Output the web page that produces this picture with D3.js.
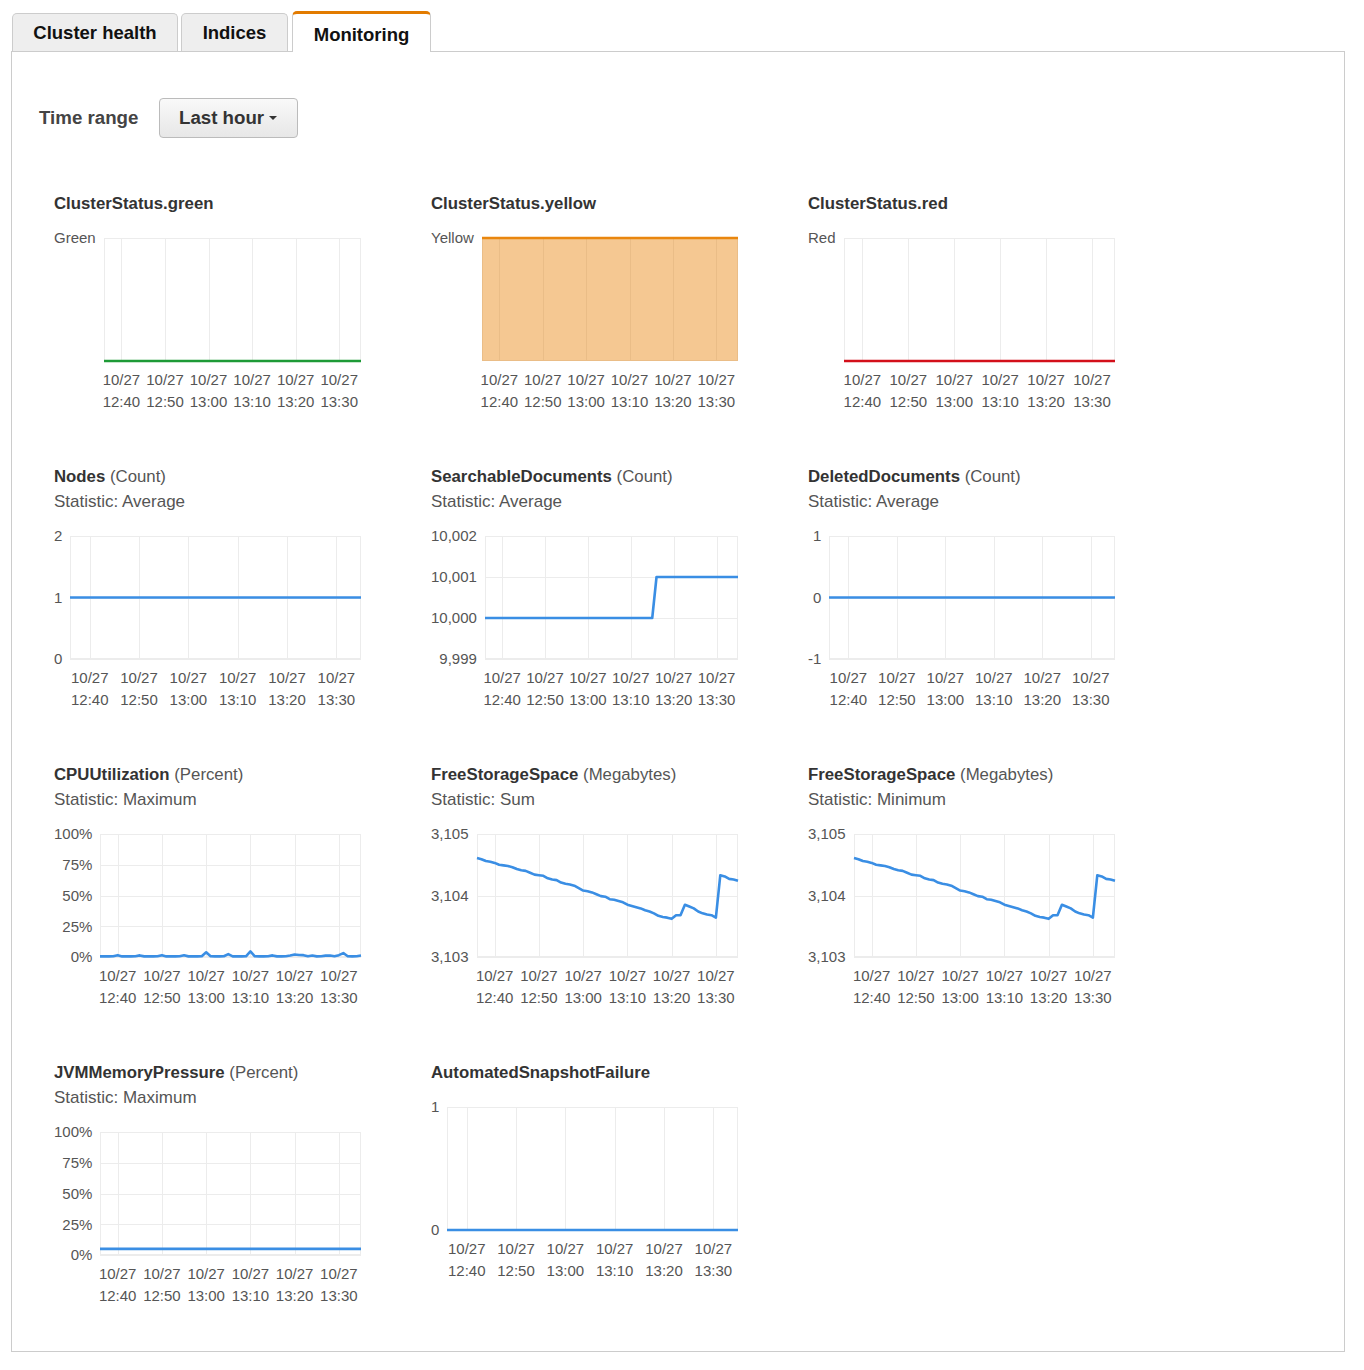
<!DOCTYPE html>
<html>
<head>
<meta charset="utf-8">
<script src="https://cdn.jsdelivr.net/npm/d3@7"></script>
<style>
  body {
    margin: 0;
    width: 1364px;
    height: 1370px;
    position: relative;
    background: #fff;
    font-family: "Liberation Sans", Arial, Helvetica, sans-serif;
    color: #333;
  }
  .tab {
    position: absolute;
    box-sizing: border-box;
    border: 1px solid #ccc;
    border-bottom: none;
    border-radius: 5px 5px 0 0;
    background: #eee;
    font-weight: bold;
    font-size: 18.5px;
    color: #111;
    text-align: center;
  }
  .tab.active {
    background: #fff;
    border-top: 3px solid #e27b00;
    z-index: 2;
  }
  .panel {
    position: absolute;
    left: 11px; top: 51px;
    width: 1334px; height: 1301px;
    box-sizing: border-box;
    border: 1px solid #ccc;
  }
  .range-label {
    position: absolute;
    left: 39px; top: 106px;
    font-weight: bold; font-size: 18.7px; line-height: 24px;
    color: #444;
  }
  .button {
    position: absolute;
    left: 159px; top: 98px;
    width: 139px; height: 40px;
    box-sizing: border-box;
    border: 1px solid #bbb;
    border-radius: 4px;
    background: linear-gradient(#f9f9f9, #e7e7e7);
    font-weight: bold; font-size: 18.7px; line-height: 38px;
    color: #333;
    padding-left: 19px;
  }
  .caret {
    display: inline-block;
    width: 0; height: 0;
    margin-left: 5px;
    vertical-align: 4px;
    border-left: 4px solid transparent;
    border-right: 4px solid transparent;
    border-top: 4px solid #333;
  }
  #charts {
    position: absolute;
    left: 54px; top: 191px;
    width: 1140px;
  }
  .cell {
    float: left;
    width: 377px;
    margin-bottom: 53px;
  }
  .title {
    font-size: 16.8px; line-height: 25px; font-weight: bold; color: #333;
    white-space: nowrap;
  }
  .title .unit { font-weight: normal; color: #555; }
  .stat { font-size: 17px; line-height: 25px; color: #555; }
  svg { display: block; }
  svg text { font-family: "Liberation Sans", Arial, Helvetica, sans-serif; font-size: 15px; fill: #555; }
</style>
</head>
<body>
<div class="tab" style="left:12px; top:13px; width:166px; height:38px; line-height:37px;">Cluster health</div>
<div class="tab" style="left:181px; top:13px; width:107px; height:38px; line-height:37px;">Indices</div>
<div class="tab active" style="left:292px; top:11px; width:139px; height:41px; line-height:41px;">Monitoring</div>
<div class="panel"></div>
<div class="range-label">Time range</div>
<div class="button">Last hour<span class="caret"></span></div>
<div id="charts"></div>

<script>
// time axis: one sample per minute, 12:36 .. 13:35 on 10/27
const startTime = new Date(2015, 9, 27, 12, 36);
const endTime = new Date(2015, 9, 27, 13, 36);
const times = d3.timeMinute.range(startTime, endTime);
const tickTimes = ["12:40", "12:50", "13:00", "13:10", "13:20", "13:30"];

const greenStatus = [0,0,0,0,0,0,0,0,0,0, 0,0,0,0,0,0,0,0,0,0, 0,0,0,0,0,0,0,0,0,0,
                     0,0,0,0,0,0,0,0,0,0, 0,0,0,0,0,0,0,0,0,0, 0,0,0,0,0,0,0,0,0,0];
const yellowStatus = [1,1,1,1,1,1,1,1,1,1, 1,1,1,1,1,1,1,1,1,1, 1,1,1,1,1,1,1,1,1,1,
                      1,1,1,1,1,1,1,1,1,1, 1,1,1,1,1,1,1,1,1,1, 1,1,1,1,1,1,1,1,1,1];
const redStatus = [0,0,0,0,0,0,0,0,0,0, 0,0,0,0,0,0,0,0,0,0, 0,0,0,0,0,0,0,0,0,0,
                   0,0,0,0,0,0,0,0,0,0, 0,0,0,0,0,0,0,0,0,0, 0,0,0,0,0,0,0,0,0,0];
const nodesCount = [1,1,1,1,1,1,1,1,1,1, 1,1,1,1,1,1,1,1,1,1, 1,1,1,1,1,1,1,1,1,1,
                    1,1,1,1,1,1,1,1,1,1, 1,1,1,1,1,1,1,1,1,1, 1,1,1,1,1,1,1,1,1,1];
const searchableDocs = [10000,10000,10000,10000,10000,10000,10000,10000,10000,10000,
                        10000,10000,10000,10000,10000,10000,10000,10000,10000,10000,
                        10000,10000,10000,10000,10000,10000,10000,10000,10000,10000,
                        10000,10000,10000,10000,10000,10000,10000,10000,10000,10000,
                        10001,10001,10001,10001,10001,10001,10001,10001,10001,10001,
                        10001,10001,10001,10001,10001,10001,10001,10001,10001,10001];
const deletedDocs = [0,0,0,0,0,0,0,0,0,0, 0,0,0,0,0,0,0,0,0,0, 0,0,0,0,0,0,0,0,0,0,
                     0,0,0,0,0,0,0,0,0,0, 0,0,0,0,0,0,0,0,0,0, 0,0,0,0,0,0,0,0,0,0];
const cpuMax = [0.5,0.5,0.5,0.6,1.5,0.5,0.5,0.5,0.6,1.3, 0.5,0.5,0.5,0.6,1.5,0.5,0.5,0.5,0.6,1.4,
                0.5,0.5,0.5,0.6,3.8,0.6,0.5,0.5,0.6,2.3, 0.5,0.5,0.5,0.6,4.6,0.6,0.5,0.5,0.6,1.3,
                0.5,0.5,0.6,1.2,2.0,1.6,1.5,0.6,1.2,0.5, 0.6,1.1,1.2,0.6,1.5,3.2,0.6,0.5,0.6,1.2];
const freeStorageSum = [3104.61,3104.59,3104.56,3104.55,3104.53,3104.50,3104.49,3104.48,3104.46,3104.43,
                        3104.41,3104.40,3104.37,3104.34,3104.33,3104.32,3104.28,3104.26,3104.25,3104.21,
                        3104.19,3104.18,3104.16,3104.12,3104.08,3104.07,3104.05,3104.02,3103.99,3103.98,
                        3103.94,3103.93,3103.91,3103.89,3103.85,3103.83,3103.81,3103.79,3103.76,3103.74,
                        3103.71,3103.67,3103.65,3103.64,3103.62,3103.68,3103.68,3103.85,3103.82,3103.79,
                        3103.74,3103.71,3103.69,3103.68,3103.64,3104.33,3104.31,3104.27,3104.26,3104.24];
const freeStorageMin = [3104.61,3104.59,3104.56,3104.55,3104.53,3104.50,3104.49,3104.48,3104.46,3104.43,
                        3104.41,3104.40,3104.37,3104.34,3104.33,3104.32,3104.28,3104.26,3104.25,3104.21,
                        3104.19,3104.18,3104.16,3104.12,3104.08,3104.07,3104.05,3104.02,3103.99,3103.98,
                        3103.94,3103.93,3103.91,3103.89,3103.85,3103.83,3103.81,3103.79,3103.76,3103.74,
                        3103.71,3103.67,3103.65,3103.64,3103.62,3103.68,3103.68,3103.85,3103.82,3103.79,
                        3103.74,3103.71,3103.69,3103.68,3103.64,3104.33,3104.31,3104.27,3104.26,3104.24];
const jvmPressure = [5,5,5,5,5,5,5,5,5,5, 5,5,5,5,5,5,5,5,5,5, 5,5,5,5,5,5,5,5,5,5,
                     5,5,5,5,5,5,5,5,5,5, 5,5,5,5,5,5,5,5,5,5, 5,5,5,5,5,5,5,5,5,5];
const snapshotFailure = [0,0,0,0,0,0,0,0,0,0, 0,0,0,0,0,0,0,0,0,0, 0,0,0,0,0,0,0,0,0,0,
                         0,0,0,0,0,0,0,0,0,0, 0,0,0,0,0,0,0,0,0,0, 0,0,0,0,0,0,0,0,0,0];

const blue = "#3a8ee4";
const pct = d => d + "%";
const comma = d => d3.format(",")(d).replace("\u2212", "-");

const charts = [
  {title: "ClusterStatus.green", values: greenStatus, color: "#1d9a36", domain: [0, 1], ticks: [1], format: () => "Green"},
  {title: "ClusterStatus.yellow", values: yellowStatus, color: "#e9860e", domain: [0, 1], ticks: [1], format: () => "Yellow", area: true},
  {title: "ClusterStatus.red", values: redStatus, color: "#d30f1a", domain: [0, 1], ticks: [1], format: () => "Red"},
  {title: "Nodes", unit: "Count", stat: "Average", values: nodesCount, domain: [0, 2], ticks: [0, 1, 2], format: comma},
  {title: "SearchableDocuments", unit: "Count", stat: "Average", values: searchableDocs, domain: [9999, 10002], ticks: [9999, 10000, 10001, 10002], format: comma},
  {title: "DeletedDocuments", unit: "Count", stat: "Average", values: deletedDocs, domain: [-1, 1], ticks: [-1, 0, 1], format: comma},
  {title: "CPUUtilization", unit: "Percent", stat: "Maximum", values: cpuMax, domain: [0, 100], ticks: [0, 25, 50, 75, 100], format: pct},
  {title: "FreeStorageSpace", unit: "Megabytes", stat: "Sum", values: freeStorageSum, domain: [3103, 3105], ticks: [3103, 3104, 3105], format: comma},
  {title: "FreeStorageSpace", unit: "Megabytes", stat: "Minimum", values: freeStorageMin, domain: [3103, 3105], ticks: [3103, 3104, 3105], format: comma},
  {title: "JVMMemoryPressure", unit: "Percent", stat: "Maximum", values: jvmPressure, domain: [0, 100], ticks: [0, 25, 50, 75, 100], format: pct},
  {title: "AutomatedSnapshotFailure", values: snapshotFailure, domain: [0, 1], ticks: [0, 1], format: comma}
];

const W = 310, H = 195;
const plotTop = 22, plotH = 123, plotRight = 307;
const parseTick = d3.timeParse("%H:%M");
const tickDates = tickTimes.map(t => {
  const p = parseTick(t);
  return new Date(2015, 9, 27, p.getHours(), p.getMinutes());
});

const container = d3.select("#charts");

charts.forEach(c => {
  const cell = container.append("div").attr("class", "cell");
  const t = cell.append("div").attr("class", "title").text(c.title);
  if (c.unit) t.append("span").attr("class", "unit").text(" (" + c.unit + ")");
  if (c.stat) cell.append("div").attr("class", "stat").text("Statistic: " + c.stat);

  const svg = cell.append("svg").attr("width", W).attr("height", H);

  // measure y labels to size the left margin
  const probe = svg.append("g");
  let maxW = 0;
  c.ticks.forEach(v => {
    const n = probe.append("text").text(c.format(v)).node();
    maxW = Math.max(maxW, n.getComputedTextLength());
  });
  probe.remove();
  const left = Math.round(maxW + 8);

  const x = d3.scaleTime().domain([times[0], times[times.length - 1]]).range([left, plotRight]);
  const y = d3.scaleLinear().domain(c.domain).range([plotTop + plotH, plotTop]);

  const grid = svg.append("g").attr("stroke", "#ececec").attr("stroke-width", 1).attr("fill", "none");
  grid.append("rect")
    .attr("x", left + 0.5).attr("y", plotTop + 0.5)
    .attr("width", plotRight - left - 1).attr("height", plotH - 1);
  grid.selectAll(".vx").data(tickDates).join("line")
    .attr("x1", d => Math.round(x(d)) + 0.5).attr("x2", d => Math.round(x(d)) + 0.5)
    .attr("y1", plotTop).attr("y2", plotTop + plotH);
  grid.selectAll(".hy").data(c.ticks).join("line")
    .attr("x1", left).attr("x2", plotRight)
    .attr("y1", d => Math.round(y(d)) + 0.5).attr("y2", d => Math.round(y(d)) + 0.5);

  const data = times.map((d, i) => ({t: d, v: c.values[i]}));
  const color = c.color || blue;

  if (c.area) {
    svg.append("path").datum(data)
      .attr("fill", color).attr("fill-opacity", 0.45)
      .attr("d", d3.area().x(d => x(d.t)).y0(y(c.domain[0])).y1(d => y(d.v)));
  }
  svg.append("path").datum(data)
    .attr("fill", "none").attr("stroke", color).attr("stroke-width", 2.6)
    .attr("stroke-linejoin", "round")
    .attr("d", d3.line().x(d => x(d.t)).y(d => y(d.v)));

  // y labels
  svg.append("g").selectAll("text").data(c.ticks).join("text")
    .attr("x", maxW).attr("y", d => y(d)).attr("dy", "0.35em")
    .attr("text-anchor", "end")
    .text(c.format);

  // x labels, two lines
  const xl = svg.append("g").selectAll("text").data(tickDates).join("text")
    .attr("text-anchor", "middle");
  xl.append("tspan").attr("x", d => x(d)).attr("y", plotTop + plotH + 18.5).attr("dy", "0.35em")
    .text(d3.timeFormat("%m/%d"));
  xl.append("tspan").attr("x", d => x(d)).attr("y", plotTop + plotH + 40.5).attr("dy", "0.35em")
    .text(d3.timeFormat("%H:%M"));
});
</script>
</body>
</html>
